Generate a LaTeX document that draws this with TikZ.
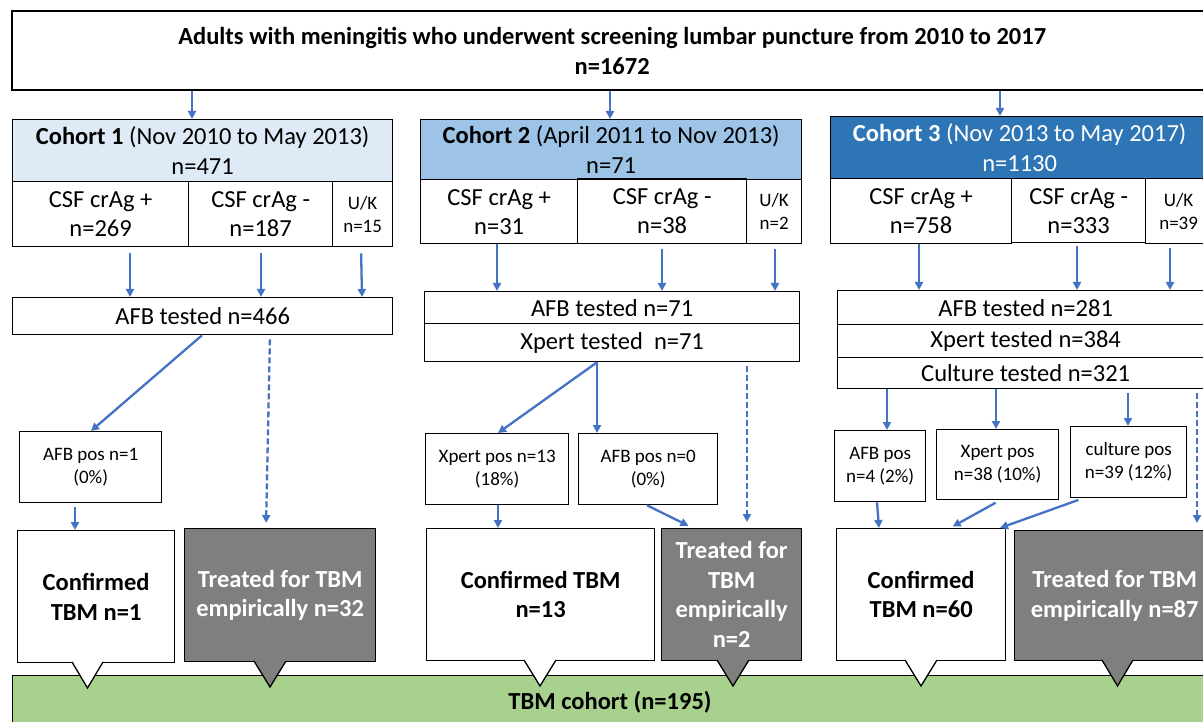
\documentclass[tikz,border=0pt]{standalone}
\usepackage{fontspec}
\setmainfont{Carlito}
\usetikzlibrary{calc,arrows.meta}
\definecolor{cA}{HTML}{DEEBF7}
\definecolor{cB}{HTML}{9DC3E6}
\definecolor{cC}{HTML}{2E75B6}
\definecolor{gbox}{HTML}{7F7F7F}
\definecolor{gfill}{HTML}{A9D18E}
\definecolor{ablue}{HTML}{4472C4}
\tikzset{
  box/.style={draw=black, line width=1.3pt, inner sep=0pt, align=center, rectangle},
  arr/.style={draw=ablue, line width=2.3pt, -{Triangle[length=8pt,width=8pt]}},
  darr/.style={arr, dash pattern=on 6pt off 3pt},
  fbig/.style={font=\fontsize{24.5}{30}\selectfont},
  fcell/.style={font=\fontsize{24.5}{29}\selectfont},
  fsmall/.style={font=\fontsize{19}{23}\selectfont},
  fbold/.style={font=\fontsize{24.5}{29.5}\selectfont\bfseries},
  conf/.style={box, fbold, fill=white},
  treat/.style={box, fbold, fill=gbox, text=white},
}
\newcommand\bx[7]{\node[box,#6,minimum width=#4pt-#2pt,minimum height=#5pt-#3pt,anchor=north west] (#1) at (#2,#3) {#7};}
\newcommand\ptr[4]{\fill[#4] (#1,#3) -- (#2,#3) -- ({(#1+#2)/2},#3+26) -- cycle;
  \draw[line width=1.3pt, line join=miter] (#1,#3) -- ({(#1+#2)/2},#3+26) -- (#2,#3);}
\begin{document}
\begin{tikzpicture}[x=1pt,y=-1pt]
\useasboundingbox (0,0) rectangle (1203,722);
\clip (0,0) rectangle (1203,722);
\fill[white] (0,0) rectangle (1203,722);
% green cohort
\bx{green}{12}{675}{1215}{740}{fill=gfill}{}
\node[fbold] (gtxt) at (610,702) {TBM cohort (n=195)};
% top
\node[box, line width=2.4pt, fbig, font=\fontsize{24.5}{30}\selectfont\bfseries, minimum width=1200pt, minimum height=79pt, anchor=north west] (top) at (11,10)
  {Adults with meningitis who underwent screening lumbar puncture from 2010 to 2017\\n=1672};
% cohort 1
\bx{h1}{12}{119}{392}{181}{fill=cA,fbig}{\textbf{Cohort 1} (Nov 2010 to May 2013)\\n=471}
\bx{c1a}{12}{181}{188}{246}{fcell}{CSF crAg +\\n=269}
\bx{c1b}{188}{181}{332}{246}{fcell}{CSF crAg -\\n=187}
\bx{c1c}{332}{181}{392}{246}{fsmall}{U/K\\n=15}
\bx{afb1}{12}{297}{392}{334}{fbig}{AFB tested n=466}
\bx{ap1}{19}{431}{161}{502}{fsmall}{AFB pos n=1\\(0\%)}
\bx{cf1}{17}{530}{174}{662}{conf}{Confirmed\\TBM n=1}
\bx{tr1}{184}{528}{375}{661}{treat}{Treated for TBM\\empirically n=32}
% cohort 2
\bx{h2}{420}{119}{801}{179}{fill=cB,fbig}{\textbf{Cohort 2} (April 2011 to Nov 2013)\\n=71}
\bx{c2a}{420}{179}{577}{243}{fcell}{CSF crAg +\\n=31}
\bx{c2b}{577}{178}{746}{243}{fcell}{CSF crAg -\\n=38}
\bx{c2c}{746}{179}{801}{243}{fsmall}{U/K\\n=2}
\bx{afb2}{424}{291}{799}{323}{fbig}{AFB tested n=71}
\bx{xp2}{424}{323}{799}{361}{fbig}{Xpert tested\ \ n=71}
\bx{xpos2}{425}{433}{568}{504}{fsmall}{Xpert pos n=13\\(18\%)}
\bx{apos2}{578}{433}{717}{504}{fsmall}{AFB pos n=0\\(0\%)}
\bx{cf2}{426}{528}{654}{660}{conf}{Confirmed TBM\\n=13}
\bx{tr2}{661}{528}{801}{660}{treat}{Treated for\\TBM\\empirically\\n=2}
% cohort 3
\bx{h3}{830}{116}{1208}{178}{fill=cC,text=white,fbig}{\textbf{Cohort 3} (Nov 2013 to May 2017)\\n=1130}
\bx{c3a}{830}{178}{1011}{243}{fcell}{CSF crAg +\\n=758}
\bx{c3b}{1011}{178}{1145}{242}{fcell}{CSF crAg -\\n=333}
\bx{c3c}{1145}{178}{1211}{243}{fsmall}{U/K\\n=39}
\bx{afb3}{837}{290}{1213}{324}{fbig}{AFB tested n=281}
\bx{xp3}{837}{324}{1213}{357}{fbig}{Xpert tested n=384}
\bx{cu3}{837}{357}{1213}{388}{fbig}{Culture tested n=321}
\bx{apos3}{834}{430}{925}{501}{fsmall}{AFB pos\\n=4 (2\%)}
\bx{xpos3}{936}{429}{1058}{499}{fsmall}{Xpert pos\\n=38 (10\%)}
\bx{cpos3}{1070}{426}{1186}{497}{fsmall}{culture pos\\n=39 (12\%)}
\bx{cf3}{836}{528}{1005}{660}{conf}{Confirmed\\TBM n=60}
\bx{tr3}{1014}{530}{1214}{660}{treat}{Treated for TBM\\empirically n=87}
% pointers
\ptr{72}{103}{662}{white}
\ptr{254}{286}{661}{gbox}
\ptr{524}{556}{660}{white}
\ptr{717}{749}{660}{gbox}
\ptr{905}{937}{660}{white}
\ptr{1102}{1133}{660}{gbox}
% arrows cohort 1
\draw[arr] (top.south -| 192,0) -- (h1.north -| 192,0);
\draw[arr, shorten <=6pt] (c1a.south -| 130,0) -- (afb1.north -| 130,0);
\draw[arr, shorten <=6pt] (c1b.south -| 261,0) -- (afb1.north -| 261,0);
\draw[arr, shorten <=6pt] (c1c.south -| 361,0) -- (afb1.north -| 362,0);
\draw[arr] (afb1.south -| 202,0) -- (ap1.north -| 91,0);
\draw[darr, shorten <=4pt, shorten >=5pt] (afb1.south -| 270,0) -- (tr1.north -| 266,0);
\draw[arr, shorten <=4pt] (ap1.south -| 75,0) -- (cf1.north -| 75,0);
% arrows cohort 2
\draw[arr] (top.south -| 610,0) -- (h2.north -| 610,0);
\draw[arr] (c2a.south -| 497,0) -- (afb2.north -| 497,0);
\draw[arr, shorten <=5pt] (c2b.south -| 662,0) -- (afb2.north -| 662,0);
\draw[arr, shorten <=5pt] (c2c.south -| 775,0) -- (afb2.north -| 775,0);
\draw[arr] (xp2.south -| 597,0) -- (xpos2.north -| 498,0);
\draw[arr] (xp2.south -| 597,0) -- (apos2.north -| 597,0);
\draw[darr, shorten <=4pt, shorten >=6pt] (xp2.south -| 747,0) -- (tr2.north -| 747,0);
\draw[arr] (xpos2.south -| 498,0) -- (cf2.north -| 498,0);
\draw[arr, shorten >=5pt] (apos2.south -| 647,0) -- (tr2.north -| 693,0);
% arrows cohort 3
\draw[arr] (top.south -| 1000,0) -- (h3.north -| 1000,0);
\draw[arr] (c3a.south -| 919,0) -- (afb3.north -| 919,0);
\draw[arr, shorten <=3pt] (c3b.south -| 1077,0) -- (afb3.north -| 1077,0);
\draw[arr, shorten <=4pt] (c3c.south -| 1170,0) -- (afb3.north -| 1170,0);
\draw[arr] (cu3.south -| 887,0) -- (apos3.north -| 887,0);
\draw[arr] (cu3.south -| 996,0) -- (xpos3.north -| 996,0);
\draw[arr, shorten <=4pt] (cu3.south -| 1128,0) -- (cpos3.north -| 1128,0);
\draw[darr, shorten <=4pt, shorten >=7pt] (cu3.south -| 1197,0) -- (tr3.north -| 1197,0);
\draw[arr] (apos3.south -| 877,0) -- (cf3.north -| 879,0);
\draw[arr, shorten <=5pt, shorten >=3pt] (xpos3.south -| 1000,0) -- (cf3.north -| 950,0);
\draw[arr, shorten <=5pt] (cpos3.south -| 1083,0) -- (cf3.north -| 1000,0);
\end{tikzpicture}
\end{document}
